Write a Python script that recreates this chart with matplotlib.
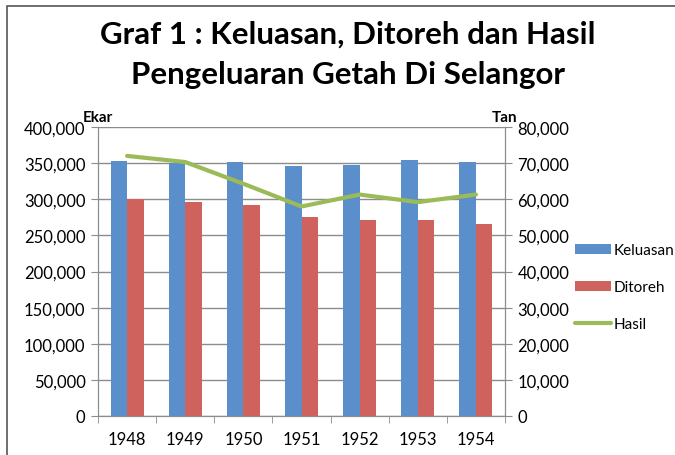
import numpy as np
import matplotlib.pyplot as plt
from matplotlib.patches import Rectangle
from matplotlib.ticker import FuncFormatter, MultipleLocator

plt.rcParams['font.family'] = ['Lato', 'DejaVu Sans']

# ── Data ──────────────────────────────────────────────
years = ["1948", "1949", "1950", "1951", "1952", "1953", "1954"]
keluasan = [353000, 350000, 351000, 346000, 347000, 354000, 351000]   # Ekar
ditoreh = [301000, 296000, 292000, 275000, 271000, 271000, 266000]    # Ekar
hasil = [72000, 70300, 64300, 58000, 61300, 59200, 61300]             # Tan

BLUE = "#5B8FCB"
RED = "#D0625D"
GREEN = "#9BBB59"
GRID = "#8C8C8C"

W, H = 675, 456
fig = plt.figure(figsize=(W / 100, H / 100), dpi=100, facecolor="white")

# chart frame (cut off at right/bottom like the original)
fig.patches.append(Rectangle((7 / W, -0.1), 1.1, 1 - 7 / H + 0.1,
                             transform=fig.transFigure, fill=False,
                             edgecolor="#555555", lw=1.2))

ax = fig.add_axes([98 / W, 1 - 417 / H, 407 / W, 289 / H])
ax2 = ax.twinx()

x = np.arange(len(years))
bw = 0.285
ax.bar(x - bw / 2, keluasan, bw, color=BLUE, label="Keluasan", zorder=3)
ax.bar(x + bw / 2, ditoreh, bw, color=RED, label="Ditoreh", zorder=3)
ax2.plot(x, hasil, color=GREEN, lw=3.0, label="Hasil", solid_capstyle="round")

ax.set_xlim(-0.5, len(years) - 0.5)
ax.set_ylim(0, 400000)
ax2.set_ylim(0, 80000)
ax.yaxis.set_major_locator(MultipleLocator(50000))
ax2.yaxis.set_major_locator(MultipleLocator(10000))
fmt = FuncFormatter(lambda v, p: f"{int(v):,}")
ax.yaxis.set_major_formatter(fmt)
ax2.yaxis.set_major_formatter(fmt)

ax.set_xticks(x)
ax.set_xticklabels(years)
ax.set_xticks(np.arange(-0.5, len(years)), minor=True)
ax.tick_params(axis="x", which="major", length=0, labelsize=12, pad=11)
ax.tick_params(axis="x", which="minor", length=5, color=GRID, direction="out")
ax.tick_params(axis="y", length=5, color=GRID, labelsize=12, pad=4)
ax2.tick_params(axis="y", length=5, color=GRID, labelsize=12, pad=4)

ax.grid(axis="y", color=GRID, lw=1, zorder=0)
ax.set_axisbelow(True)
for a in (ax, ax2):
    for s in a.spines.values():
        s.set_color(GRID)
    a.spines["top"].set_visible(False)

ax.text(0, 1.012, "Ekar", transform=ax.transAxes, ha="center", va="bottom",
        fontsize=11, fontweight="bold")
ax.text(1, 1.012, "Tan", transform=ax.transAxes, ha="center", va="bottom",
        fontsize=11, fontweight="bold")

fig.text(348 / W, 1 - 35 / H, "Graf 1 : Keluasan, Ditoreh dan Hasil",
         ha="center", va="center", fontsize=22.5, fontweight="bold")
fig.text(348 / W, 1 - 75 / H, "Pengeluaran Getah Di Selangor",
         ha="center", va="center", fontsize=22.5, fontweight="bold")

h1, l1 = ax.get_legend_handles_labels()
h2, l2 = ax2.get_legend_handles_labels()
fig.legend(h1 + h2, l1 + l2, loc="center left",
           bbox_to_anchor=(569 / W, 1 - 288 / H), frameon=False,
           fontsize=11, handlelength=2.35, handleheight=0.65,
           labelspacing=1.5, handletextpad=0.2, borderaxespad=0)

fig.savefig("out.png", dpi=100, facecolor="white")
